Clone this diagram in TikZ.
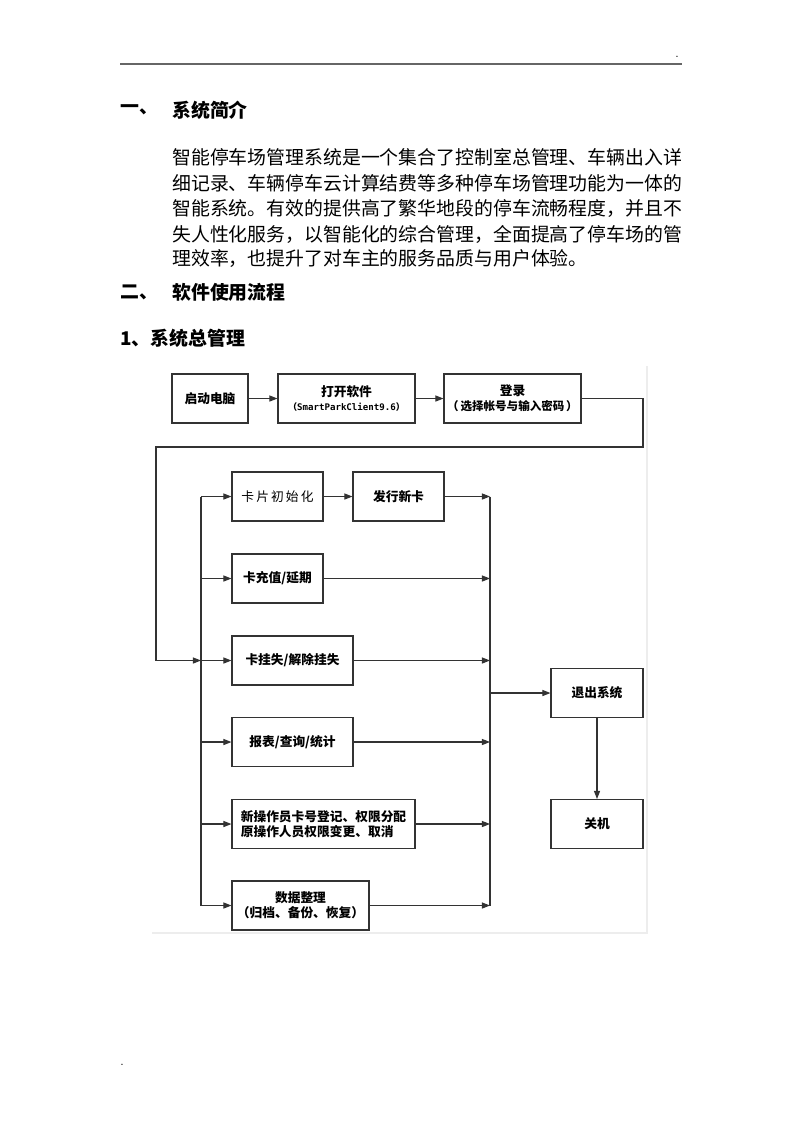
\documentclass[tikz,border=0pt]{standalone}
\usepackage{fontspec}
\newfontfamily\cjk{Noto Sans CJK SC}
\setmonofont{DejaVu Sans Mono}
\usetikzlibrary{arrows.meta}
\newcommand\pxu{0.02625cm}
\newcommand\bodyfont{\cjk\fontsize{14.1}{16}\selectfont}
\newcommand\boxfont{\cjk\bfseries\fontsize{9.5}{11.5}\selectfont}

\begin{document}
\begin{tikzpicture}[x=0.02625cm, y=-0.02625cm,
  line/.style={draw=black!80, line width=0.8pt},
  arr/.style={line, -{Triangle[length=6pt,width=4.5pt]}},
  box/.style={line, font=\boxfont, align=center, inner sep=1pt,
    minimum height=49*\pxu},
  para/.style={anchor=west, inner sep=0pt, font=\bodyfont},
  head/.style={anchor=west, inner sep=0pt, font=\bodyfont\bfseries}]
\useasboundingbox[fill=white] (0,0) rectangle (800,1132);

% page header and text
\draw[black!60, line width=1.3pt] (120,64) -- (682,64);
\node[inner sep=0pt, font=\small] (dt) at (677,57) {.};
\node[inner sep=0pt, font=\small] (db) at (122,1065) {.};

\node[head] (h1a) at (120,110) {一、};
\node[head] (h1) at (172,110) {系统简介};
\node[para] (p1) at (172,157) {智能停车场管理系统是一个集合了控制室总管理、车辆出入详};
\node[para] (p2) at (172,183) {细记录、车辆停车云计算结费等多种停车场管理功能为一体的};
\node[para] (p3) at (172,209) {智能系统。有效的提供高了繁华地段的停车流畅程度，并且不};
\node[para] (p4) at (172,234) {失人性化服务，以智能化的综合管理，全面提高了停车场的管};
\node[para] (p5) at (172,259) {理效率，也提升了对车主的服务品质与用户体验。};
\node[head] (h2a) at (120,292) {二、};
\node[head] (h2) at (172,292) {软件使用流程};
\node[head] (h3) at (120,338) {1、系统总管理};

% faint edge of the figure
\draw[black!7, line width=1pt] (152,933) -- (647,933) -- (647,366);

% boxes
\node[box, minimum width=76*\pxu] (start) at (210,398.5) {启动电脑};
\node[box, minimum width=137*\pxu] (open) at (346.5,398.5)
  {打开软件\\[-1pt]{\fontsize{6.8}{8}\selectfont（\texttt{SmartParkClient9.6}）}};
\node[box, minimum width=137*\pxu] (login) at (512.5,398.5)
  {登录\\{\fontsize{8.6}{10}\selectfont（\,选择帐号与输入密码\,）}};
\node[box, minimum width=91*\pxu, font=\cjk\fontsize{9.5}{11}\selectfont] (init) at (277.5,496.5) {卡\,片\,初\,始\,化};
\node[box, minimum width=91*\pxu] (issue) at (398.5,496.5) {发行新卡};
\node[box, minimum width=91*\pxu] (charge) at (277.5,578.5) {卡充值/延期};
\node[box, minimum width=121*\pxu] (loss) at (292.5,660.5) {卡挂失/解除挂失};
\node[box, minimum width=121*\pxu] (report) at (292.5,742) {报表/查询/统计};
\node[box, minimum width=183*\pxu, align=left] (oper) at (323.5,824)
  {新操作员卡号登记、权限分配\\原操作人员权限变更、取消};
\node[box, minimum width=137*\pxu] (data) at (300.5,905.5)
  {数据整理\\（归档、备份、恢复）};
\node[box, minimum width=92*\pxu] (quit) at (597,693) {退出系统};
\node[box, minimum width=92*\pxu] (off) at (597,824) {关机};

% bus points
\coordinate (l1) at (201,496.5);
\coordinate (l2) at (201,578.5);
\coordinate (l3) at (201,660.5);
\coordinate (l4) at (201,742);
\coordinate (l5) at (201,824);
\coordinate (l6) at (201,905.5);
\coordinate (r1) at (490,496.5);
\coordinate (r2) at (490,578.5);
\coordinate (r3) at (490,660.5);
\coordinate (r4) at (490,742);
\coordinate (r5) at (490,824);
\coordinate (r6) at (490,905.5);
\coordinate (rq) at (490,693);
\coordinate (c1) at (643,398.5);
\coordinate (c2) at (643,447);
\coordinate (c3) at (156,447);
\coordinate (c4) at (156,660.5);

% connectors
\draw[arr] (start) -- (open);
\draw[arr] (open) -- (login);
\draw[line] (login.east) -- (c1) -- (c2) -- (c3) -- (c4);
\draw[arr] (c4) -- (l3);
\draw[line] (l1) -- (l6);
\draw[line] (r1) -- (r6);
\draw[arr] (l1) -- (init);
\draw[arr] (l2) -- (charge);
\draw[arr] (l3) -- (loss);
\draw[arr] (l4) -- (report);
\draw[arr] (l5) -- (oper);
\draw[arr] (l6) -- (data);
\draw[arr] (init) -- (issue);
\draw[arr] (issue) -- (r1);
\draw[arr] (charge) -- (r2);
\draw[arr] (loss) -- (r3);
\draw[arr] (report) -- (r4);
\draw[arr] (oper) -- (r5);
\draw[arr] (data) -- (r6);
\draw[arr] (rq) -- (quit);
\draw[arr] (quit) -- (off);
\end{tikzpicture}
\end{document}
